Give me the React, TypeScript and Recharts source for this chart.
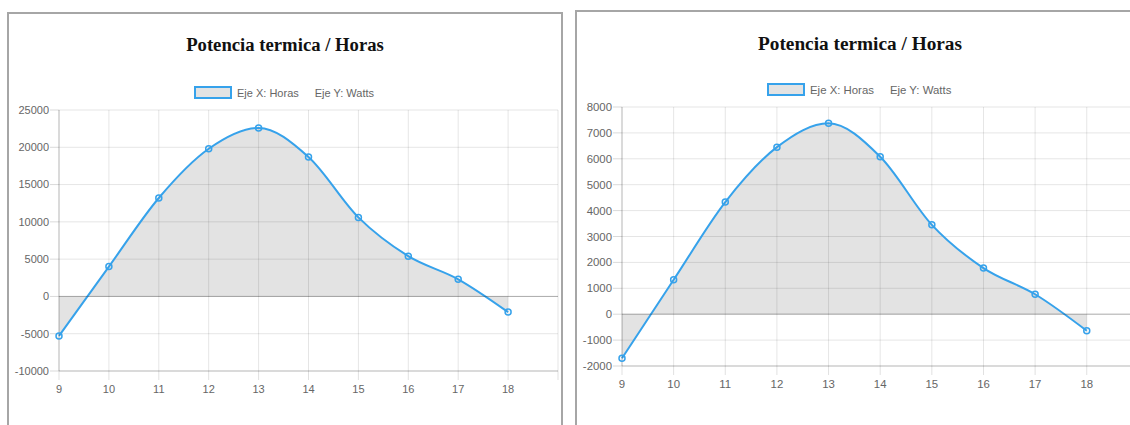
import { AreaChart, Area, XAxis, YAxis, CartesianGrid, ReferenceLine } from "recharts";

const HOURS = [9, 10, 11, 12, 13, 14, 15, 16, 17, 18];
const X_TICKS = [9, 10, 11, 12, 13, 14, 15, 16, 17, 18, 19];

const LEFT_WATTS = [-5300, 4000, 13200, 19800, 22600, 18700, 10600, 5400, 2300, -2100];
const LEFT_Y_TICKS = [-10000, -5000, 0, 5000, 10000, 15000, 20000, 25000];

const RIGHT_WATTS = [-1700, 1330, 4330, 6450, 7370, 6080, 3450, 1780, 770, -640];
const RIGHT_Y_TICKS = [-2000, -1000, 0, 1000, 2000, 3000, 4000, 5000, 6000, 7000, 8000];

const TITLE = "Potencia termica / Horas";
const LEGEND_X = "Eje X: Horas";
const LEGEND_Y = "Eje Y: Watts";

const BLUE = "#36a2eb";
const SANS = '"Liberation Sans", Arial, sans-serif';
const SERIF = '"Liberation Serif", "Times New Roman", serif';

const toRows = (values: number[]) => HOURS.map((hora, i) => ({ hora, watts: values[i] }));

interface PanelProps {
  values: number[];
  yTicks: number[];
  // border box of the framed panel
  frame: { left: number; top: number; width: number };
  // chart svg placement, so the plot lines up with the screenshot
  chartLeft: number;
  chartWidth: number;
  plotTop: number;
  plotBottom: number;
  yAxisWidth: number;
  rightMargin: number;
  fontSize: number;
  titleSize: number;
  titleCenter: number;
  titleTop: number;
  legendLeft: number;
  legendTop: number;
  legendGap: number;
}

function Panel(p: PanelProps) {
  const data = toRows(p.values);
  const tickStyle = { fill: "#666", fontSize: p.fontSize, fontFamily: SANS };
  return (
    <>
      <div
        style={{
          position: "absolute",
          left: p.frame.left,
          top: p.frame.top,
          width: p.frame.width,
          height: 440,
          border: "2px solid #a6a6a6",
          boxSizing: "border-box",
        }}
      />
      <div
        style={{
          position: "absolute",
          left: p.titleCenter - 200,
          width: 400,
          top: p.titleTop,
          textAlign: "center",
          fontFamily: SERIF,
          fontWeight: "bold",
          fontSize: p.titleSize,
          lineHeight: `${p.titleSize}px`,
          color: "#111",
        }}
      >
        {TITLE}
      </div>
      <div
        style={{
          position: "absolute",
          left: p.legendLeft,
          top: p.legendTop,
          display: "flex",
          alignItems: "center",
          fontFamily: SANS,
          fontSize: p.fontSize,
          color: "#666",
          whiteSpace: "nowrap",
        }}
      >
        <div
          style={{
            width: 38,
            height: 13,
            boxSizing: "border-box",
            background: "#e3e3e3",
            border: `2px solid ${BLUE}`,
            marginRight: 5,
          }}
        />
        <span>{LEGEND_X}</span>
        <span style={{ marginLeft: p.legendGap }}>{LEGEND_Y}</span>
      </div>
      <div style={{ position: "absolute", left: p.chartLeft, top: 0 }}>
        <AreaChart
          width={p.chartWidth}
          height={425}
          data={data}
          margin={{ top: p.plotTop, right: p.rightMargin, left: 0, bottom: 425 - p.plotBottom - 30 }}
        >
          <CartesianGrid stroke="rgba(0,0,0,0.1)" />
          <XAxis
            dataKey="hora"
            type="number"
            domain={[9, 19]}
            ticks={X_TICKS}
            interval={0}
            height={30}
            tickFormatter={(v) => (v === 19 ? "" : String(v))}
            tick={tickStyle}
            tickSize={9}
            tickMargin={5}
            tickLine={{ stroke: "rgba(0,0,0,0.12)" }}
            axisLine={{ stroke: "rgba(0,0,0,0.2)" }}
          />
          <YAxis
            type="number"
            domain={[p.yTicks[0], p.yTicks[p.yTicks.length - 1]]}
            ticks={p.yTicks}
            interval={0}
            width={p.yAxisWidth}
            tick={tickStyle}
            tickSize={9}
            tickMargin={1}
            tickLine={{ stroke: "rgba(0,0,0,0.15)" }}
            axisLine={{ stroke: "rgba(0,0,0,0.2)" }}
          />
          <ReferenceLine y={0} stroke="rgba(0,0,0,0.25)" />
          <Area
            type="monotone"
            dataKey="watts"
            stroke={BLUE}
            strokeWidth={2}
            fill="#000"
            fillOpacity={0.11}
            dot={{ r: 3, stroke: BLUE, strokeWidth: 1.5, fill: "rgba(0,0,0,0.1)" }}
            activeDot={false}
            isAnimationActive={false}
          />
        </AreaChart>
      </div>
    </>
  );
}

export default function App() {
  return (
    <div
      style={{
        position: "fixed",
        left: 0,
        top: 0,
        width: 1130,
        height: 425,
        overflow: "hidden",
        background: "#fff",
      }}
    >
      <Panel
        values={LEFT_WATTS}
        yTicks={LEFT_Y_TICKS}
        frame={{ left: 7, top: 12, width: 556 }}
        chartLeft={0}
        chartWidth={570}
        plotTop={110}
        plotBottom={371}
        yAxisWidth={59}
        rightMargin={12}
        fontSize={11}
        titleSize={18.7}
        titleCenter={285}
        titleTop={36}
        legendLeft={194}
        legendTop={86}
        legendGap={16}
      />
      <Panel
        values={RIGHT_WATTS}
        yTicks={RIGHT_Y_TICKS}
        frame={{ left: 575, top: 10, width: 570 }}
        chartLeft={565}
        chartWidth={580}
        plotTop={107}
        plotBottom={366}
        yAxisWidth={57}
        rightMargin={6.6}
        fontSize={11.4}
        titleSize={19.3}
        titleCenter={860}
        titleTop={34}
        legendLeft={767}
        legendTop={83}
        legendGap={16}
      />
    </div>
  );
}
